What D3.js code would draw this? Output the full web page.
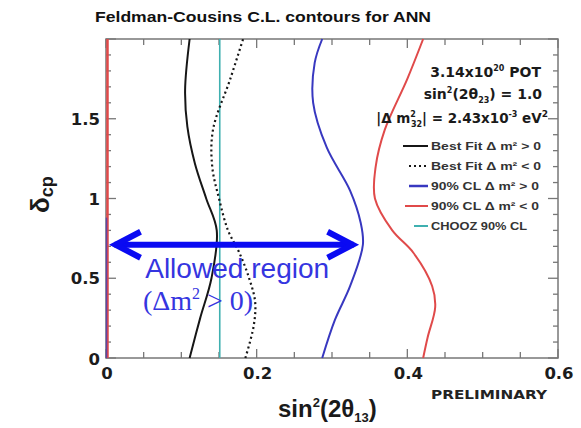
<!DOCTYPE html>
<html>
<head>
<meta charset="utf-8">
<script src="https://cdn.jsdelivr.net/npm/d3@7/dist/d3.min.js"></script>
<style>
  html, body { margin: 0; padding: 0; background: #fff; }
  svg { display: block; }
  .bold { font-family: "Liberation Sans", Arial, sans-serif; font-weight: bold; }
  .wide { font-family: "DejaVu Sans", sans-serif; font-weight: bold; }
</style>
</head>
<body>
<svg id="chart" width="581" height="428"></svg>
<script>
// sin^2(2θ13) ranges covered by each contour, read against δcp
const deltaFitNormal = [0, 0.25, 0.5, 0.8, 1.0, 1.22, 1.45, 1.68, 2.0];
const sinFitNormal   = [0.111, 0.125, 0.140, 0.147, 0.133, 0.118, 0.108, 0.105, 0.111];

const deltaFitInverted = [0, 0.2, 0.35, 0.5, 0.66, 0.8, 1.0, 1.2, 1.43, 1.75, 2.0];
const sinFitInverted   = [0.185, 0.196, 0.198, 0.190, 0.177, 0.162, 0.150, 0.141, 0.142, 0.165, 0.182];

const deltaCLNormal = [0, 0.24, 0.45, 0.71, 0.85, 1.05, 1.32, 1.6, 1.85, 2.0];
const sinCLNormal   = [0.287, 0.304, 0.324, 0.341, 0.338, 0.324, 0.293, 0.275, 0.277, 0.287];

const deltaCLInverted = [0, 0.13, 0.32, 0.45, 0.66, 0.8, 1.0, 1.2, 1.43, 1.75, 2.0];
const sinCLInverted   = [0.421, 0.427, 0.437, 0.433, 0.408, 0.380, 0.357, 0.358, 0.370, 0.400, 0.421];

// lower edge of the 90% CL regions sits at sin^2(2θ13) = 0
const edgeCLNormal   = [0, 0.88];
const edgeCLInverted = [0, 2.0];

const choozLimit = 0.151;

const xTickLabels = [0, 0.2, 0.4, 0.6];
const yTickLabels = [0, 0.5, 1, 1.5];

const legendLabels = ["Best Fit \u0394 m\u00b2 > 0", "Best Fit \u0394 m\u00b2 < 0",
                      "90% CL \u0394 m\u00b2 > 0", "90% CL \u0394 m\u00b2 < 0", "CHOOZ 90% CL"];

const colors = { fit: "#161616", normal: "#3838c0", inverted: "#e04a4a", chooz: "#3fb0b0",
                 arrow: "#0a0af2", note: "#3535e0", axis: "#777", text: "#1c1c1c" };

const svg = d3.select("#chart");
const W = 581, H = 428;
const m = { left: 106, right: 23, top: 39, bottom: 70 };

const x = d3.scaleLinear().domain([0, 0.6]).range([m.left, W - m.right]);
const y = d3.scaleLinear().domain([0, 2.0]).range([H - m.bottom, m.top]);

// title
svg.append("text").attr("class", "bold")
  .attr("x", 95).attr("y", 22).attr("font-size", 15.5)
  .attr("textLength", 336).attr("lengthAdjust", "spacingAndGlyphs")
  .attr("fill", "#111")
  .text("Feldman-Cousins C.L. contours for ANN");

const plot = svg.append("g");

// frame
plot.append("rect")
  .attr("x", x(0)).attr("y", y(2)).attr("width", x(0.6) - x(0)).attr("height", y(0) - y(2))
  .attr("fill", "none").attr("stroke", colors.axis).attr("stroke-width", 1.5);

// ticks on all four sides, pointing inward
const xTicks = d3.range(0, 0.6001, 0.05);
const yTicks = d3.range(0, 2.0001, 0.1);
const isMajor = (v, step) => Math.abs(v / step - Math.round(v / step)) < 1e-6;

const tickG = plot.append("g").attr("stroke", colors.axis).attr("stroke-width", 1.3);
xTicks.forEach(v => {
  const len = isMajor(v, 0.2) ? 9 : 6;
  tickG.append("line").attr("x1", x(v)).attr("x2", x(v)).attr("y1", y(0)).attr("y2", y(0) - len);
  tickG.append("line").attr("x1", x(v)).attr("x2", x(v)).attr("y1", y(2)).attr("y2", y(2) + len);
});
yTicks.forEach(v => {
  const len = isMajor(v, 0.5) ? 10 : 5;
  tickG.append("line").attr("x1", x(0)).attr("x2", x(0) + len).attr("y1", y(v)).attr("y2", y(v));
  tickG.append("line").attr("x1", x(0.6)).attr("x2", x(0.6) - len).attr("y1", y(v)).attr("y2", y(v));
});

// tick labels
svg.append("g").selectAll("text").data(xTickLabels).join("text")
  .attr("class", "wide").attr("font-size", 16.5).attr("fill", colors.text)
  .attr("text-anchor", "middle")
  .attr("x", d => x(d) + 1).attr("y", y(0) + 21)
  .text(d => d);

svg.append("g").selectAll("text").data(yTickLabels).join("text")
  .attr("class", "wide").attr("font-size", 16.5).attr("fill", colors.text)
  .attr("text-anchor", "end")
  .attr("x", x(0) - 6).attr("y", d => y(d) + 6 + (d === 0 ? 1 : 0))
  .text(d => d);

// contours
const line = d3.line()
  .x(d => x(d[0])).y(d => y(d[1]))
  .curve(d3.curveCatmullRom.alpha(0.5));

const pairs = (xs, ys) => xs.map((v, i) => [v, ys[i]]);

// 90% CL, inverted hierarchy edge
plot.append("path").datum(pairs(edgeCLInverted.map(() => 0), edgeCLInverted))
  .attr("d", d3.line().x(d => x(d[0]) + 1.5).y(d => y(d[1])))
  .attr("stroke", colors.inverted).attr("stroke-width", 2.5).attr("fill", "none");
// 90% CL, normal hierarchy edge
plot.append("path").datum(pairs(edgeCLNormal.map(() => 0), edgeCLNormal))
  .attr("d", d3.line().x(d => x(d[0]) + 0.5).y(d => y(d[1])))
  .attr("stroke", colors.normal).attr("stroke-width", 1.5).attr("stroke-opacity", 0.7).attr("fill", "none");

plot.append("path").datum(pairs(sinCLInverted, deltaCLInverted))
  .attr("d", line).attr("stroke", colors.inverted).attr("stroke-width", 2).attr("fill", "none");
plot.append("path").datum(pairs(sinCLNormal, deltaCLNormal))
  .attr("d", line).attr("stroke", colors.normal).attr("stroke-width", 2).attr("fill", "none");

// CHOOZ limit
plot.append("line")
  .attr("x1", x(choozLimit)).attr("x2", x(choozLimit)).attr("y1", y(0)).attr("y2", y(2))
  .attr("stroke", colors.chooz).attr("stroke-width", 1.6);

// best fits
plot.append("path").datum(pairs(sinFitInverted, deltaFitInverted))
  .attr("d", line).attr("stroke", colors.fit).attr("stroke-width", 2.2)
  .attr("stroke-dasharray", "2,3").attr("fill", "none");
plot.append("path").datum(pairs(sinFitNormal, deltaFitNormal))
  .attr("d", line).attr("stroke", colors.fit).attr("stroke-width", 2).attr("fill", "none");

// legend header
const hdr = svg.append("g").attr("class", "wide").attr("fill", "#1a1a1a").attr("text-anchor", "end");
const h1 = hdr.append("text").attr("x", 541).attr("y", 77).attr("font-size", 14);
h1.append("tspan").text("3.14x10");
h1.append("tspan").attr("dy", -6).attr("font-size", 8).text("20");
h1.append("tspan").attr("dy", 6).text(" POT");

const h2 = hdr.append("text").attr("x", 542).attr("y", 99).attr("font-size", 14);
h2.append("tspan").text("sin");
h2.append("tspan").attr("dy", -6).attr("font-size", 8).text("2");
h2.append("tspan").attr("dy", 6).text("(2\u03b8");
h2.append("tspan").attr("dy", 4).attr("font-size", 8).text("23");
h2.append("tspan").attr("dy", -4).text(") = 1.0");

const h3 = hdr.append("text").attr("x", 548).attr("y", 123).attr("font-size", 13.5);
h3.append("tspan").text("|\u0394 m");
h3.append("tspan").attr("dy", -6).attr("font-size", 8).text("2");
h3.append("tspan").attr("dx", -5).attr("dy", 10).attr("font-size", 8).text("32");
h3.append("tspan").attr("dy", -4).text("| = 2.43x10");
h3.append("tspan").attr("dy", -6).attr("font-size", 8).text("-3");
h3.append("tspan").attr("dy", 6).text(" eV");
h3.append("tspan").attr("dy", -6).attr("font-size", 9).text("2");

// legend entries
const legendStyles = [
  { color: colors.fit, dash: null, x1: 403, width: 2 },
  { color: colors.fit, dash: "2,3", x1: 409, width: 2 },
  { color: colors.normal, dash: null, x1: 409, width: 2.5 },
  { color: colors.inverted, dash: null, x1: 405, width: 2 },
  { color: colors.chooz, dash: null, x1: 414, width: 2 }
];
const legendWidths = [110, 110, 108, 108, 96];
const leg = svg.append("g");
legendLabels.forEach((label, i) => {
  const by = 150 + i * 20;
  const st = legendStyles[i];
  leg.append("line").attr("x1", st.x1).attr("x2", 428).attr("y1", by - 4).attr("y2", by - 4)
    .attr("stroke", st.color).attr("stroke-width", st.width)
    .attr("stroke-dasharray", st.dash);
  leg.append("text").attr("class", "bold").attr("font-size", 11.5).attr("fill", "#333")
    .attr("x", 431).attr("y", by)
    .attr("textLength", legendWidths[i]).attr("lengthAdjust", "spacingAndGlyphs")
    .text(label);
});

// allowed-region annotation: double arrow across the normal-hierarchy band
const arrowDelta = 0.71;
const arrowFrom = 0.006, arrowTo = 0.334;
const ay = y(arrowDelta);
const ann = svg.append("g").attr("stroke", colors.arrow).attr("fill", "none")
  .attr("stroke-width", 6).attr("stroke-linecap", "butt").attr("stroke-linejoin", "miter");
ann.append("line").attr("x1", x(arrowFrom) + 4).attr("x2", x(arrowTo) - 4).attr("y1", ay).attr("y2", ay);
ann.append("path").attr("d",
  `M${x(arrowFrom) + 30},${ay - 13} L${x(arrowFrom) + 5},${ay} L${x(arrowFrom) + 30},${ay + 13}`);
ann.append("path").attr("d",
  `M${x(arrowTo) - 30},${ay - 13} L${x(arrowTo) - 5},${ay} L${x(arrowTo) - 30},${ay + 13}`);

svg.append("text")
  .attr("x", x(0.052)).attr("y", y(0.5))
  .attr("font-family", "Liberation Sans, Arial, sans-serif").attr("font-size", 27)
  .attr("fill", colors.note).attr("textLength", 184).attr("lengthAdjust", "spacingAndGlyphs")
  .text("Allowed region");

const note2 = svg.append("text")
  .attr("x", x(0.049)).attr("y", y(0.3))
  .attr("font-family", "Liberation Serif, Times New Roman, serif").attr("font-size", 28)
  .attr("fill", colors.note);
note2.append("tspan").text("(\u0394m");
note2.append("tspan").attr("dy", -11).attr("font-size", 16).text("2");
note2.append("tspan").attr("dy", 11).text(" > 0)");

// axis titles
const xt = svg.append("text").attr("class", "bold").attr("font-size", 24).attr("fill", "#1a1a1a")
  .attr("x", 278).attr("y", 417);
xt.append("tspan").text("sin");
xt.append("tspan").attr("dy", -10).attr("font-size", 13).text("2");
xt.append("tspan").attr("dy", 10).text("(2\u03b8");
xt.append("tspan").attr("dy", 5).attr("font-size", 13).text("13");
xt.append("tspan").attr("dy", -5).text(")");

const yt = svg.append("text").attr("class", "bold").attr("fill", "#1a1a1a")
  .attr("transform", "translate(49,213) rotate(-90)");
yt.append("tspan").attr("font-size", 26).text("\u03b4");
yt.append("tspan").attr("font-size", 18).attr("dy", 4).text("cp");

svg.append("text").attr("class", "wide").attr("font-size", 12.5).attr("fill", "#222")
  .attr("x", 431).attr("y", 399)
  .attr("textLength", 116).attr("lengthAdjust", "spacingAndGlyphs")
  .text("PRELIMINARY");
</script>
</body>
</html>
